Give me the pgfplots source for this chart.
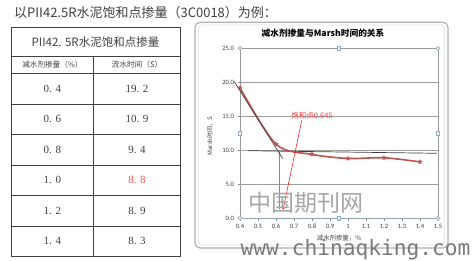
\documentclass[border=0pt]{standalone}
\usepackage{fontspec}
\setmainfont{Noto Sans CJK SC}
\newfontfamily\tnum{Liberation Serif}
\newfontfamily\carl{Carlito}
\newfontfamily\wmono{DejaVu Sans Mono}
\usepackage{pgfplots}
\pgfplotsset{compat=1.18}
\definecolor{exred}{HTML}{C0504D}
\definecolor{txt}{HTML}{404040}
\definecolor{hdl}{HTML}{8FAFC4}
\definecolor{hdlf}{HTML}{EAF3F8}
\begin{document}
\begin{tikzpicture}
\useasboundingbox (0pt,0pt) rectangle (473pt,-261pt);
\fill[white] (0pt,0pt) rectangle (473pt,-261pt);
% title line
\node[anchor=west, inner sep=0pt, text=txt, font=\fontsize{13}{14}\selectfont] at (14pt,-12.5pt) {以PII42.5R水泥饱和点掺量（3C0018）为例：};
% table
\draw[black!75, line width=0.7pt] (11pt,-27.3pt) rectangle (180.3pt,-256.7pt);
\foreach \yy in {56,73.3,104,134.3,165,195.7,226} {
  \draw[black!75, line width=0.7pt] (11pt,-\yy pt) -- (180.3pt,-\yy pt);
}
\draw[black!75, line width=0.7pt] (93.7pt,-56pt) -- (93.7pt,-256.7pt);
\node[text=txt, font=\fontsize{11.5}{12}\selectfont] at (95.5pt,-41.7pt) {PII42. 5R水泥饱和点掺量};
\node[text=txt, font=\fontsize{7.6}{8}\selectfont] at (52.4pt,-65pt) {减水剂掺量（\%）};
\node[text=txt, font=\fontsize{7.7}{8}\selectfont] at (137pt,-65pt) {流水时间（S）};
\foreach \yy/\a/\b in {88.7/0. 4/19. 2, 119.2/0. 6/10. 9, 149.7/0. 8/9. 4, 210.9/1. 2/8. 9, 241.4/1. 4/8. 3} {
  \node[text=txt, font=\tnum\fontsize{11}{12}\selectfont] at (52.4pt,-\yy pt) {\a};
  \node[text=txt, font=\tnum\fontsize{11}{12}\selectfont] at (137pt,-\yy pt) {\b};
}
\node[text=txt, font=\tnum\fontsize{11}{12}\selectfont] at (52.4pt,-180.4pt) {1. 0};
\node[text={rgb,255:red,255;green,80;blue,80}, font=\tnum\fontsize{11}{12}\selectfont] at (137pt,-180.4pt) {8. 8};
% chart frame
\draw[black!30, line width=1.2pt, rounded corners=5pt] (195pt,-22.3pt) rectangle (448pt,-248pt);
\draw[black!12, line width=0.8pt, rounded corners=4pt] (198.3pt,-25pt) rectangle (444.7pt,-245pt);
% chart title and labels
\node[text=black, font=\bfseries\fontsize{8.7}{9}\selectfont] at (323pt,-33.3pt) {减水剂掺量与Marsh时间的关系};
\node[text=txt, font=\fontsize{6.4}{7}\selectfont] at (339pt,-238.3pt) {减水剂掺量，\%};
\node[rotate=90, text=txt, font=\fontsize{6.1}{7}\selectfont] at (210pt,-136pt) {Marsh时间，S};
\begin{axis}[
  at={(240pt,-218.3pt)}, anchor=south west,
  scale only axis, width=198pt, height=170pt,
  xmin=0.4, xmax=1.5, ymin=0, ymax=25,
  xtick={0.4,0.5,0.6,0.7,0.8,0.9,1.0,1.1,1.2,1.3,1.4,1.5},
  xticklabels={0.4,0.5,0.6,0.7,0.8,0.9,1,1.1,1.2,1.3,1.4,1.5},
  ytick={0,5,10,15,20,25},
  yticklabels={0.0,5.0,10.0,15.0,20.0,25.0},
  ymajorgrids,
  grid style={draw=black!38, line width=0.6pt},
  axis line style={draw=black!40, line width=0.6pt},
  tick style={draw=black!45, line width=0.5pt},
  tick align=outside, major tick length=2.5pt,
  xtick pos=left, ytick pos=left,
  tick label style={font=\carl\fontsize{6.6}{7}\selectfont, text=txt},
  clip=false,
]
% bottom dotted selection border
\addplot[draw=hdl, dotted, line width=0.6pt] coordinates {(0.4,0) (1.5,0)};
% horizontal asymptote line
\addplot[draw=black!75, line width=0.7pt] coordinates {(0.446,9.94) (1.493,9.56)};
% vertical line
\addplot[draw=black!45, line width=0.7pt] coordinates {(0.616,9.9) (0.616,1.4)};
% data
\addplot[draw=exred, line width=1.6pt, smooth, tension=0.5, mark=star, mark size=2.2pt,
  mark options={line width=1.1pt, draw=exred, fill=exred}]
  coordinates {(0.4,19.2) (0.6,10.9) (0.8,9.4) (1.0,8.8) (1.2,8.9) (1.4,8.3)};
% tangent line
\addplot[draw=black!75, line width=0.7pt] coordinates {(0.368,20.1) (0.637,8.8)};
% red callout line
\addplot[draw=red, line width=0.5pt] coordinates {(0.743,14.4) (0.641,1.5)};
\addplot[only marks, mark=*, mark size=0.8pt, red] coordinates {(0.641,1.5)};
\node[text={rgb,255:red,255;green,60;blue,60}, font=\fontsize{7.5}{8}\selectfont] at (axis cs:0.8,15.1) {饱和点0.645};
% selection handles
\addplot[only marks, mark=*, mark size=1.9pt, mark options={draw=hdl, fill=hdlf, line width=0.6pt}]
  coordinates {(0.4,0) (0.4,25) (1.5,0) (1.5,25)};
\addplot[only marks, mark=square*, mark size=1.6pt, mark options={draw=hdl, fill=hdlf, line width=0.6pt}]
  coordinates {(0.95,0) (0.95,25) (0.4,12.5) (1.5,12.5)};
\end{axis}
% watermarks
\node[text=black!35, font=\fontsize{23}{24}\selectfont] at (306pt,-203pt) {中国期刊网};
\node[anchor=base west, inner sep=0pt, text=black!52, font=\wmono\fontsize{21.2}{22}\selectfont] at (240.5pt,-256pt) {www.chinaqking.com};
\end{tikzpicture}
\end{document}
